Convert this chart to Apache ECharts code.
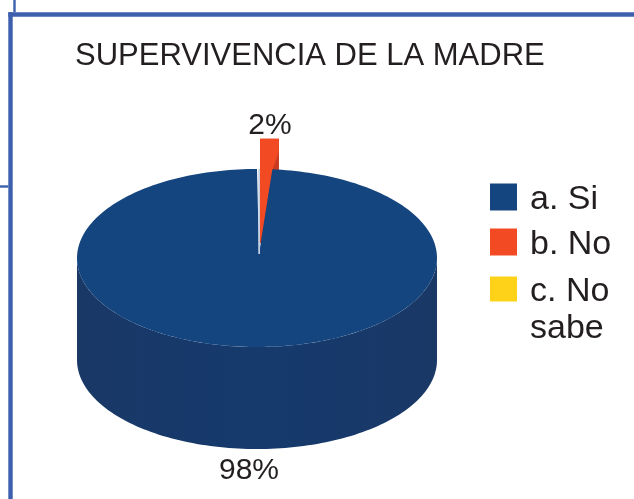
<!DOCTYPE html>
<html><head><meta charset="utf-8">
<style>html,body{margin:0;padding:0;background:#fff}#c{width:634px;height:499px}</style>
<script src="https://cdn.jsdelivr.net/npm/echarts@6/dist/echarts.min.js"></script>
</head><body><div id="c"></div>
<script>
const titleText = 'SUPERVIVENCIA DE LA MADRE';
const categories = ['a. Si', 'b. No', 'c. No sabe'];
const values = [98, 2, 0];
const colors = ['#14457f', '#f24a22', '#ffd21a'];

const FONT = '"Liberation Sans", Arial, sans-serif';
const INK = '#231f20';
// pie projection (pixels)
const C = {x: 257, y: 258, rx: 180, ry: 89, depth: 102, apexX: 259, apexY: 254};
const total = values.reduce((a, b) => a + b, 0);
// the source renderer draws the thin slice narrower than its true sweep
const sliceAngle = v => v / total * 2 * Math.PI * 0.68;
const ell = (a, dy) => [C.x + C.rx * Math.sin(a), C.y + (dy || 0) - C.ry * Math.cos(a)];

function renderSi(params, api) {
  const v = api.value(0);
  const start = sliceAngle(total - v);
  const top = [[C.apexX, C.apexY]];
  const N = 240;
  for (let i = 0; i <= N; i++) {
    top.push(ell(start + (2 * Math.PI - start) * i / N));
  }
  const side = [];
  for (let i = 0; i <= 120; i++) side.push(ell(Math.PI / 2 + Math.PI * i / 120));
  for (let i = 120; i >= 0; i--) side.push(ell(Math.PI / 2 + Math.PI * i / 120, C.depth));
  return {type: 'group', children: [
    {type: 'polygon', shape: {points: side}, style: {fill: new echarts.graphic.LinearGradient(0, 0, 1, 0, [
      {offset: 0, color: '#1a3866'}, {offset: 0.25, color: '#17396a'}, {offset: 0.5, color: '#163a6c'},
      {offset: 0.75, color: '#17396a'}, {offset: 1, color: '#1a3866'}])}},
    {type: 'polygon', shape: {points: top}, style: {fill: colors[0]}},
    {type: 'rect', shape: {x: C.apexX - 0.7, y: C.y - C.ry, width: 1.7, height: C.apexY - C.y + C.ry}, style: {fill: '#c4d2e3'}},
    {type: 'text', style: {text: v + '%', x: 249, y: 471, align: 'center', verticalAlign: 'middle', font: '30px ' + FONT, fill: INK}}
  ]};
}

function renderNo(params, api) {
  const v = api.value(0);
  const a = sliceAngle(v);
  const baseX = C.apexX + 1, tipY = C.apexY - 11;
  const reach = 1.3;
  const rightX = C.apexX + reach * C.rx * Math.sin(a);
  const topY = C.apexY - reach * C.ry * Math.cos(a);
  const lightAt = 0.9;
  return {type: 'group', children: [
    {type: 'polygon', shape: {points: [[baseX, tipY], [baseX, topY], [rightX, topY], [rightX, C.y - C.ry + 6], [baseX + 2, tipY]]}, style: {fill: '#c93a20'}},
    {type: 'polygon', shape: {points: [[baseX, tipY], [baseX, topY], [rightX, topY], [rightX - 0.5, topY + 14], [C.apexX + lightAt * C.rx * Math.sin(a), C.y - C.ry], [baseX + 0.5, tipY]]}, style: {fill: colors[1]}},
    {type: 'text', style: {text: v + '%', x: 270, y: 126, align: 'center', verticalAlign: 'middle', font: '30px ' + FONT, fill: INK}}
  ]};
}

function renderEmpty() { return {type: 'group', children: []}; }

const legendText = {
  fontFamily: FONT, fontSize: 34, color: INK, lineHeight: 37,
  rich: {t: {fontFamily: FONT, fontSize: 34, color: INK, lineHeight: 37, padding: [6, 0, 0, 8]}}
};
const legendBase = {orient: 'vertical', left: 490, padding: 0, icon: 'rect', itemWidth: 27, itemHeight: 27, itemGap: 0,
  selectedMode: false, textStyle: legendText, formatter: n => '{t|' + n + '}'};

const option = {
  animation: false,
  backgroundColor: '#fff',
  title: {text: titleText, left: 75, top: 41, padding: 0, textStyle: {fontFamily: FONT, fontSize: 31, fontWeight: 'normal', color: INK}},
  legend: [
    Object.assign({}, legendBase, {top: 177, data: [categories[0]]}),
    Object.assign({}, legendBase, {top: 222, data: [categories[1]]}),
    Object.assign({}, legendBase, {top: 232, itemHeight: 25, data: [categories[2]],
      formatter: n => '{t| }\n{t|' + n.replace(' sabe', '}\n{t|sabe') + '}'})
  ],
  series: [
    {name: categories[0], type: 'custom', coordinateSystem: 'none', z: 3, silent: true, itemStyle: {color: colors[0]}, data: [values[0]], renderItem: renderSi},
    {name: categories[1], type: 'custom', coordinateSystem: 'none', z: 2, silent: true, itemStyle: {color: colors[1]}, data: [values[1]], renderItem: renderNo},
    {name: categories[2], type: 'custom', coordinateSystem: 'none', z: 1, silent: true, itemStyle: {color: colors[2]}, data: [values[2]], renderItem: renderEmpty}
  ],
  graphic: [
    {type: 'rect', silent: true, shape: {x: 8.3, y: 12.3, width: 4.4, height: 487}, style: {fill: '#3c60ae'}},
    {type: 'rect', silent: true, shape: {x: 8.3, y: 12.3, width: 626, height: 4.4}, style: {fill: '#3c60ae'}},
    {type: 'rect', silent: true, shape: {x: 13.3, y: 0, width: 2.4, height: 12.3}, style: {fill: '#3c60ae'}},
    {type: 'rect', silent: true, shape: {x: 0, y: 185.3, width: 8.3, height: 2.4}, style: {fill: '#3c60ae'}}
  ]
};
echarts.init(document.getElementById('c'), null, {renderer: 'canvas'}).setOption(option);
</script></body></html>
